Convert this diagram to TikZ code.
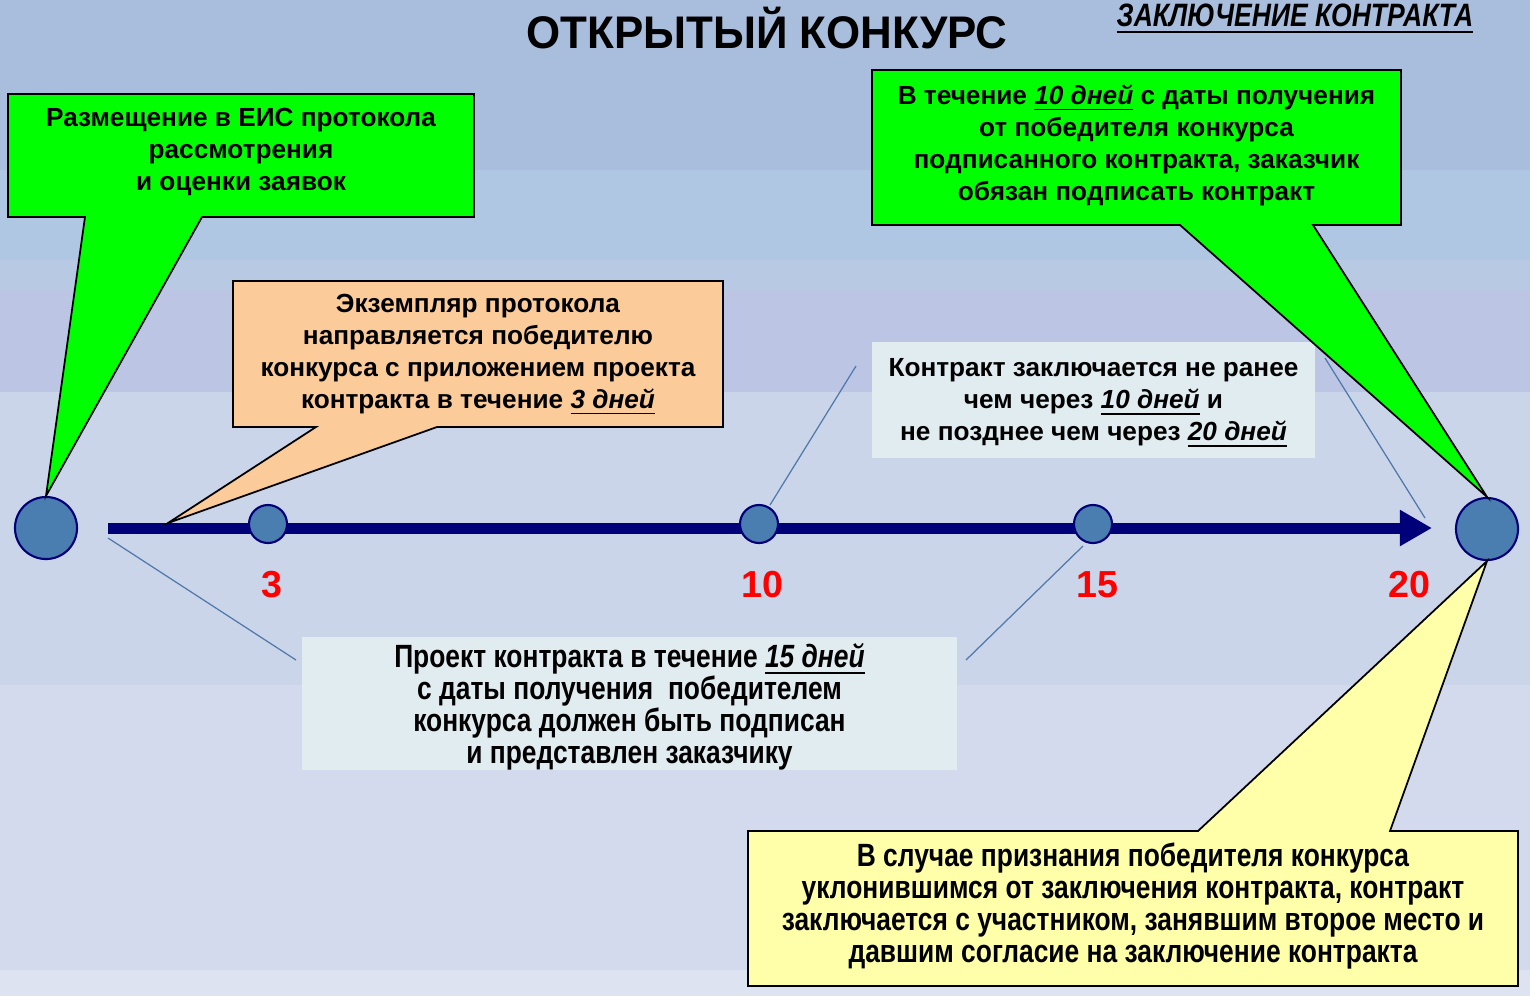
\documentclass[tikz,border=0pt]{standalone}
\usepackage{fontspec}
\setmainfont{Liberation Sans}
\newfontfamily\narrowfont{Liberation Sans}[FakeStretch=0.82]
\newfontfamily\titlefont{Liberation Sans}[FakeStretch=0.96]
\usepackage{tikz}
\usetikzlibrary{arrows.meta}

\definecolor{bgtop}{RGB}{169,190,221}
\definecolor{bgband}{RGB}{175,199,226}
\definecolor{bgstripe}{RGB}{184,201,228}
\definecolor{bgmid}{RGB}{188,198,228}
\definecolor{bglow}{RGB}{203,213,234}
\definecolor{bgfoot}{RGB}{212,218,238}
\definecolor{bgedge}{RGB}{222,227,241}
\definecolor{navyline}{RGB}{0,0,120}
\definecolor{dotblue}{RGB}{74,126,177}
\definecolor{leaderblue}{RGB}{80,120,170}
\definecolor{calloutgreen}{RGB}{0,255,0}
\definecolor{calloutpeach}{RGB}{251,203,154}
\definecolor{calloutyellow}{RGB}{255,255,170}
\definecolor{notefill}{RGB}{225,236,241}

\begin{document}
\begin{tikzpicture}[x=0.01cm, y=-0.01cm,
    boxtext/.style={align=center, font=\bfseries\fontsize{7.45}{9.1}\selectfont},
    narrowtext/.style={align=center, font=\narrowfont\bfseries\fontsize{9.15}{9.1}\selectfont},
    notebox/.style={fill=notefill, inner sep=0pt},
    callout/.style={draw=black, line width=0.5pt, line join=miter},
    daymark/.style={circle, draw=navyline, fill=dotblue, line width=0.6pt,
        inner sep=0pt, minimum size=0.38cm},
    bigmark/.style={daymark, minimum size=0.62cm},
    daylabel/.style={text=red, font=\bfseries\fontsize{10.7}{12}\selectfont},
    leader/.style={draw=leaderblue, line width=0.35pt}]
    \useasboundingbox (0,0) rectangle (1530,996);

    % Background bands
    \fill[bgtop] (0,0) rectangle (1530,170);
    \fill[bgband] (0,170) rectangle (1530,260);
    \fill[bgstripe] (0,260) rectangle (1530,290);
    \fill[bgmid] (0,290) rectangle (1530,392);
    \fill[bglow] (0,392) rectangle (1530,685);
    \fill[bgfoot] (0,685) rectangle (1530,970);
    \fill[bgedge] (0,970) rectangle (1530,996);

    % Heading
    \node[font=\titlefont\bfseries\fontsize{13}{15}\selectfont] (title) at (767,28)
        {ОТКРЫТЫЙ КОНКУРС};
    \node[font=\narrowfont\bfseries\itshape\fontsize{9.2}{10}\selectfont] (stage) at (1295,19)
        {\underline{ЗАКЛЮЧЕНИЕ КОНТРАКТА}};

    % Time axis
    \coordinate (tstart) at (108,528);
    \coordinate (tend) at (1432,528);
    \draw[navyline, line width=0.11cm, -{Triangle[length=0.32cm, width=0.34cm]}]
        (tstart) -- (tend);

    % Day marks
    \node[bigmark] (d0) at (46,528) {};
    \node[daymark] (d3) at (268,524) {};
    \node[daymark] (d10) at (759,524) {};
    \node[daymark] (d15) at (1093,524) {};
    \node[bigmark] (d20) at (1487,529) {};

    \node[daylabel] (l3) at (272,585) {3};
    \node[daylabel] (l10) at (762,585) {10};
    \node[daylabel] (l15) at (1097,585) {15};
    \node[daylabel] (l20) at (1409,585) {20};

    % Notes without border
    \node[notebox, minimum width=4.43cm, minimum height=1.16cm] (limits) at (1093.5,400) {};
    \node[boxtext] (limitstext) at (1093.5,403.5)
        {Контракт заключается не ранее\\
         чем через \underline{\itshape 10 дней} и\\
         не позднее чем через \underline{\itshape 20 дней}};
    \node[notebox, minimum width=6.55cm, minimum height=1.33cm] (draft) at (629.5,703.5) {};
    \node[narrowtext] (drafttext) at (629.5,707)
        {Проект контракта в течение \underline{\itshape 15 дней}\\
         с даты получения \ победителем\\
         конкурса должен быть подписан\\
         и представлен заказчику};

    % Leader lines
    \coordinate (ldraftL) at (108,538);
    \coordinate (ldraftLend) at (296,660);
    \coordinate (ldraftR) at (1083,546);
    \coordinate (ldraftRend) at (966,660);
    \coordinate (llimL) at (770,505);
    \coordinate (llimLend) at (856,366);
    \coordinate (llimR) at (1425,518);
    \coordinate (llimRend) at (1325,358);
    \draw[leader] (ldraftL) -- (ldraftLend);
    \draw[leader] (ldraftR) -- (ldraftRend);
    \draw[leader] (llimL) -- (llimLend);
    \draw[leader] (llimR) -- (llimRend);

    % Callouts
    \draw[callout, fill=calloutgreen] (8,94) -- (474,94) -- (474,217) -- (202,217)
        -- (d0.north) -- (85,217) -- (8,217) -- cycle;
    \node[boxtext] (placing) at (241,152)
        {Размещение в ЕИС протокола\\ рассмотрения\\ и оценки заявок};

    \coordinate (tail3) at (168,523);
    \draw[callout, fill=calloutpeach] (233,281) -- (723,281) -- (723,427) -- (437,427)
        -- (tail3) -- (316,427) -- (233,427) -- cycle;
    \node[boxtext] (copy) at (478,355)
        {Экземпляр протокола\\ направляется победителю\\
         конкурса с приложением проекта\\
         контракта в течение \underline{\itshape 3 дней}};

    \draw[callout, fill=calloutgreen] (872,70) -- (1401,70) -- (1401,225) -- (1313,225)
        -- (d20.north) -- (1180,225) -- (872,225) -- cycle;
    \node[boxtext] (signing) at (1136.5,145)
        {В течение \underline{\itshape 10 дней} с даты получения\\
         от победителя конкурса\\
         подписанного контракта, заказчик\\
         обязан подписать контракт};

    \draw[callout, fill=calloutyellow] (748,831) -- (1198,831) -- (d20.south)
        -- (1390,831) -- (1518,831) -- (1518,986) -- (748,986) -- cycle;
    \node[narrowtext] (evasion) at (1133,906)
        {В случае признания победителя конкурса\\
         уклонившимся от заключения контракта, контракт\\
         заключается с участником, занявшим второе место и\\
         давшим согласие на заключение контракта};
\end{tikzpicture}
\end{document}
